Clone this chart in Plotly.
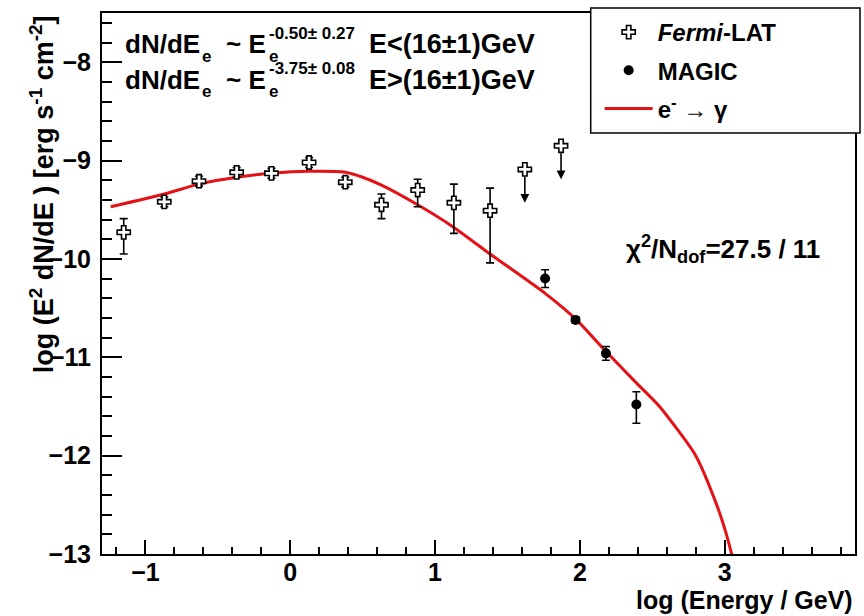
import plotly.graph_objects as go

# ---------------- data ----------------
fermi_x = [-1.15, -0.87, -0.63, -0.37, -0.13, 0.13, 0.38, 0.63, 0.88, 1.13, 1.38]
fermi_y = [-9.73, -9.42, -9.21, -9.12, -9.13, -9.02, -9.22, -9.45, -9.30, -9.43, -9.51]
fermi_err_up = [0.14, 0.05, 0.05, 0.05, 0.05, 0.05, 0.05, 0.11, 0.11, 0.19, 0.23]
fermi_err_dn = [0.22, 0.05, 0.05, 0.05, 0.05, 0.05, 0.05, 0.14, 0.17, 0.31, 0.53]

ul_x = [1.62, 1.87]
ul_y = [-9.09, -8.85]
ul_len = 0.34

magic_x = [1.76, 1.97, 2.18, 2.39]
magic_y = [-10.20, -10.62, -10.96, -11.48]
magic_err_up = [0.09, 0.03, 0.07, 0.13]
magic_err_dn = [0.09, 0.03, 0.07, 0.19]

model_x = [-1.24, -0.87, -0.63, -0.37, -0.13, 0.13, 0.38, 0.50, 0.63, 0.88, 1.13,
           1.38, 1.76, 1.97, 2.18, 2.39, 2.55, 2.80, 2.94, 3.01, 3.05]
model_y = [-9.47, -9.34, -9.24, -9.17, -9.13, -9.11, -9.12, -9.17, -9.25, -9.45, -9.68,
           -9.95, -10.35, -10.61, -10.94, -11.26, -11.50, -12.00, -12.48, -12.79, -13.01]

x_ticks = [-1, 0, 1, 2, 3]
y_ticks = [-13, -12, -11, -10, -9, -8]

# ---------------- geometry helpers ----------------
W, H = 864, 616
L, R, T, B = 102, 857, 13, 554
PW, PH = R - L, B - T


def xp(px):
    return (px - L) / PW


def yp(py):
    return (B - py) / PH


FONT = "Liberation Sans"
RED = "rgb(228,18,22)"

fig = go.Figure()

fig.add_trace(go.Scatter(
    x=model_x, y=model_y, mode="lines", name="e<sup>-</sup> \u2192 \u03b3",
    line=dict(color=RED, width=3, shape="spline", smoothing=0.6),
    legendrank=3, legendgroup="g3", cliponaxis=True,
))

fig.add_trace(go.Scatter(
    x=fermi_x, y=fermi_y, mode="markers", name="<i>Fermi</i>-LAT",
    marker=dict(symbol="cross", size=11, color="white", line=dict(color="black", width=1.6)),
    error_y=dict(type="data", symmetric=False, array=fermi_err_up, arrayminus=fermi_err_dn,
                 color="black", thickness=1.6, width=4),
    legendrank=1, legendgroup="g1",
))

fig.add_trace(go.Scatter(
    x=ul_x, y=ul_y, mode="markers", showlegend=False, legendgroup="g1",
    marker=dict(symbol="cross", size=11, color="white", line=dict(color="black", width=1.6)),
))

fig.add_trace(go.Scatter(
    x=magic_x, y=magic_y, mode="markers", name="MAGIC",
    marker=dict(symbol="circle", size=10, color="black"),
    error_y=dict(type="data", symmetric=False, array=magic_err_up, arrayminus=magic_err_dn,
                 color="black", thickness=1.6, width=4),
    legendrank=2, legendgroup="g2",
))

annotations = []
# upper-limit arrows
for ux, uy in zip(ul_x, ul_y):
    annotations.append(dict(
        x=ux, y=uy - ul_len, ax=ux, ay=uy - 0.06, xref="x", yref="y", axref="x", ayref="y",
        showarrow=True, arrowhead=2, arrowsize=1.1, arrowwidth=1.6, arrowcolor="black", text="",
    ))

# formula text (top-left)
big = dict(family=FONT, size=26, color="black", weight="bold")
tail = dict(family=FONT, size=27, color="black", weight="bold")
small = dict(family=FONT, size=17, color="black", weight="bold")
for line_y, expo, cond in [(44, "-0.50\u00b1 0.27", "E<(16\u00b11)GeV"),
                           (80, "-3.75\u00b1 0.08", "E>(16\u00b11)GeV")]:
    annotations += [
        dict(x=xp(123), y=yp(line_y), xref="paper", yref="paper", xanchor="left", yanchor="middle",
             text="dN/dE", showarrow=False, font=big),
        dict(x=xp(200), y=yp(line_y + 12), xref="paper", yref="paper", xanchor="left", yanchor="middle",
             text="e", showarrow=False, font=small),
        dict(x=xp(224), y=yp(line_y), xref="paper", yref="paper", xanchor="left", yanchor="middle",
             text="~ E", showarrow=False, font=big),
        dict(x=xp(267), y=yp(line_y - 11), xref="paper", yref="paper", xanchor="left", yanchor="middle",
             text=expo, showarrow=False, font=small),
        dict(x=xp(267), y=yp(line_y + 12), xref="paper", yref="paper", xanchor="left", yanchor="middle",
             text="e", showarrow=False, font=small),
        dict(x=xp(368), y=yp(line_y), xref="paper", yref="paper", xanchor="left", yanchor="middle",
             text=cond, showarrow=False, font=tail),
    ]

# chi2 text
annotations.append(dict(
    x=xp(625), y=yp(249), xref="paper", yref="paper", xanchor="left", yanchor="middle",
    text="\u03c7<sup>2</sup>/N<sub>dof</sub>=27.5 / 11", showarrow=False, font=big,
))

# axis titles
annotations.append(dict(
    x=1.0, y=yp(600), xref="paper", yref="paper", xanchor="right", yanchor="middle",
    text="log (Energy / GeV)", showarrow=False, font=dict(family=FONT, size=25, color="black", weight="bold"),
))
annotations.append(dict(
    x=xp(42), y=1.0, xref="paper", yref="paper", xanchor="center", yanchor="top", textangle=-90,
    text="log (E<sup>2</sup> dN/dE ) [erg s<sup>-1</sup> cm<sup>-2</sup>]", showarrow=False,
    font=dict(family=FONT, size=27, color="black", weight="bold"),
))

shapes = [
    # legend box
    dict(type="rect", xref="paper", yref="paper", x0=xp(592), x1=xp(862), y0=yp(133), y1=yp(8),
         line=dict(color="black", width=1.5), fillcolor="white", layer="above"),
]

axis_common = dict(
    showline=True, linecolor="black", linewidth=2, mirror=True,
    ticks="inside", tickcolor="black", tickwidth=1.5,
    showgrid=False, zeroline=False,
    tickfont=dict(family=FONT, size=25, color="black", weight="bold"),
)

fig.update_layout(
    width=W, height=H,
    margin=dict(l=L, r=W - R, t=T, b=H - B, pad=0),
    paper_bgcolor="white", plot_bgcolor="white",
    xaxis=dict(range=[-1.3, 3.9], tickvals=x_ticks, ticklen=14, ticklabelstandoff=-5,
               minor=dict(dtick=0.2, tick0=0, ticks="inside", ticklen=7, tickcolor="black", tickwidth=1.5),
               **axis_common),
    yaxis=dict(range=[-13, -7.5], tickvals=y_ticks, ticklen=20, ticklabelstandoff=4,
               minor=dict(dtick=0.2, tick0=0, ticks="inside", ticklen=10, tickcolor="black", tickwidth=1.5),
               **axis_common),
    showlegend=True,
    legend=dict(x=xp(601), y=yp(10), xanchor="left", yanchor="top", bgcolor="rgba(0,0,0,0)",
                borderwidth=0, font=dict(family=FONT, size=24, color="black", weight="bold"),
                traceorder="grouped", itemwidth=48, tracegroupgap=4),
    annotations=annotations,
    shapes=shapes,
)

fig.write_html("out.html", config={"displayModeBar": False},
               post_script="document.body.style.margin='0px';")
